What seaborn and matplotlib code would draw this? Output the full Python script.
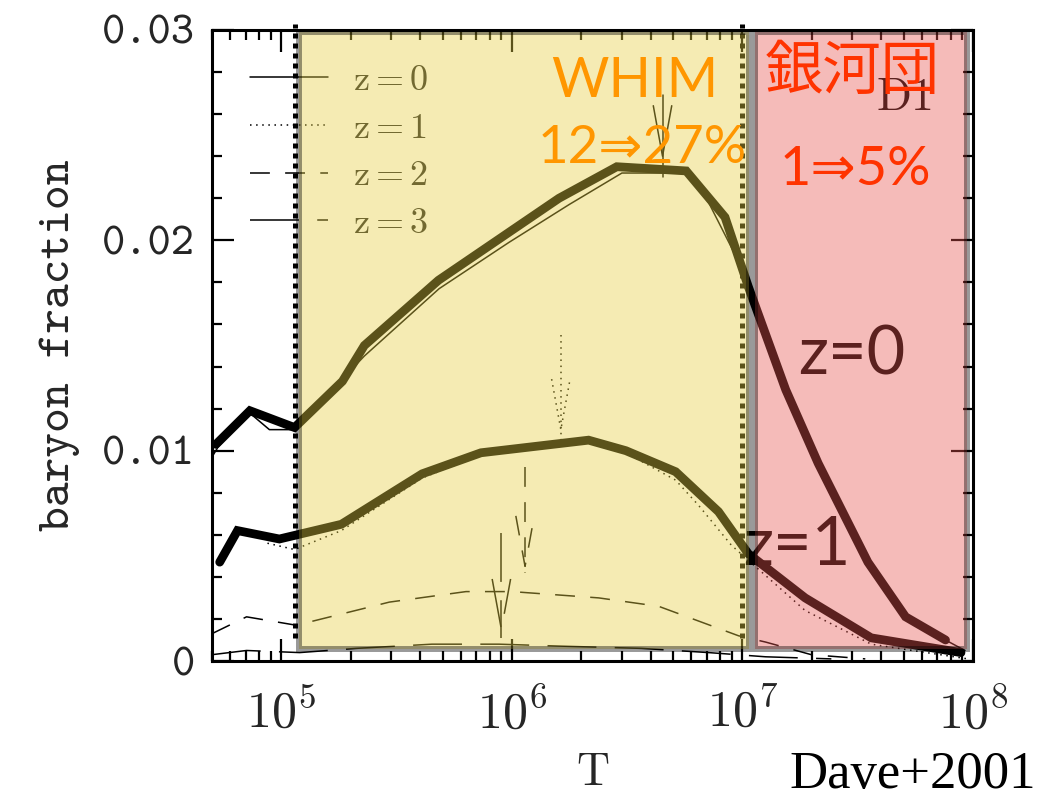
import numpy as np
import pandas as pd
import matplotlib
matplotlib.use("Agg")
import matplotlib.pyplot as plt
import seaborn as sns
from matplotlib.patches import Rectangle
from matplotlib.ticker import FixedLocator, FixedFormatter, LogLocator, NullFormatter, MultipleLocator

# ---------------- data ----------------
# thick highlighted curves
T_z0_thick = [5.2e4, 7.3e4, 1.14e5, 1.84e5, 2.29e5, 4.8e5, 1.6e6, 2.85e6, 5.7e6, 8.4e6,
              1.06e7, 1.54e7, 2.13e7, 3.5e7, 5.1e7, 7.6e7]
f_z0_thick = [0.0103, 0.0119, 0.0111, 0.0133, 0.0150, 0.0181, 0.0220, 0.0235, 0.0233, 0.0211,
              0.0178, 0.0129, 0.0094, 0.0047, 0.0021, 0.0010]
T_z1_thick = [5.4e4, 6.45e4, 9.8e4, 1.82e5, 4.08e5, 7.34e5, 2.15e6, 3.12e6, 5.13e6, 7.87e6,
              1.06e7, 1.87e7, 3.62e7, 8.87e7]
f_z1_thick = [0.0047, 0.0062, 0.0058, 0.0065, 0.0089, 0.0099, 0.0105, 0.0100, 0.0090, 0.0071,
              0.0051, 0.0030, 0.0011, 0.0004]
# thin curves of the original figure
T_z0 = [5.0e4, 5.33e4, 7.27e4, 8.87e4, 1.14e5, 2.29e5, 4.83e5, 9.7e5, 1.77e6, 3.0e6, 5.72e6,
        7.13e6, 9.61e6, 1.5e7, 2.13e7, 3.51e7, 5.13e7, 9.23e7]
f_z0 = [0.0097, 0.0102, 0.0118, 0.0110, 0.0110, 0.0145, 0.0177, 0.0199, 0.0217, 0.0232, 0.0232,
        0.0218, 0.0190, 0.0130, 0.0093, 0.0045, 0.0020, 0.0005]
T_z1 = [8.7e4, 1.14e5, 1.82e5, 4.08e5, 7.34e5, 2.15e6, 3.12e6, 5.13e6, 6.45e6, 8.96e6,
        1.87e7, 3.62e7, 9.51e7]
f_z1 = [0.0056, 0.0053, 0.0062, 0.0087, 0.0098, 0.0104, 0.0099, 0.0086, 0.0074, 0.0055,
        0.0024, 0.0008, 0.0001]
T_z2 = [5.0e4, 7.06e4, 1.16e5, 2.94e5, 6.32e5, 1.0e6, 2.38e6, 4.33e6, 6.45e6, 9.61e6,
        1.26e7, 1.99e7, 3.41e7]
f_z2 = [0.0013, 0.0021, 0.0017, 0.0028, 0.0033, 0.0033, 0.0030, 0.0026, 0.0019, 0.0012,
        0.0009, 0.0003, 0.0001]
T_z3 = [5.0e4, 7.06e4, 1.2e5, 2.11e5, 4.5e5, 8.78e5, 1.71e6, 3.65e6, 7.13e6, 1.26e7, 2.43e7]
f_z3 = [0.0003, 0.0005, 0.0004, 0.0006, 0.0008, 0.0008, 0.0007, 0.0006, 0.0004, 0.0002, 0.0001]

# mean-temperature arrows: position, top of shaft, arrow tip, end of shaft
arrow_T = [4.5e6, 1.63e6, 1.14e6, 9.0e5]
arrow_top = [0.0269, 0.0155, 0.0092, 0.0061]
arrow_tip = [0.0240, 0.0110, 0.0045, 0.0015]
arrow_end = [0.0230, 0.0105, 0.0042, 0.0011]

legend_labels = [r"$\mathrm{z}=0$", r"$\mathrm{z}=1$", r"$\mathrm{z}=2$", r"$\mathrm{z}=3$"]
line_styles = ["-", (0, (1, 3)), (0, (13, 10)), (0, (32, 12))]

whim_range = (1.197e5, 1.072e7)
cluster_range = (1.128e7, 9.45e7)
box_f = (0.00055, 0.0299)
boundary_T = [1.14e5, 1.0e7]

x_ticks = [1e5, 1e6, 1e7, 1e8]
x_ticklabels = [r"$10^{5}$", r"$10^{6}$", r"$10^{7}$", r"$10^{8}$"]
y_ticks = [0, 0.01, 0.02, 0.03]
y_ticklabels = ["0", "0.01", "0.02", "0.03"]

# ---------------- figure ----------------
sns.set_theme(style="ticks")
plt.rcParams["font.family"] = ["DejaVu Sans"]
plt.rcParams["mathtext.fontset"] = "cm"

fig = plt.figure(figsize=(10.42, 7.98), dpi=100)
fig.patch.set_facecolor("white")
ax = fig.add_axes([212 / 1042, 137 / 798, 761 / 1042, 631 / 798])
ax.set_facecolor("white")
ax.set_xscale("log")

# thick curves
for T, f in [(T_z0_thick, f_z0_thick), (T_z1_thick, f_z1_thick)]:
    sns.lineplot(x=T, y=f, ax=ax, color="black", lw=6.3, estimator=None, sort=False,
                 solid_joinstyle="miter", zorder=2)

handles = []
for T, f, ls in [(T_z0, f_z0, line_styles[0]), (T_z1, f_z1, line_styles[1]),
                 (T_z2, f_z2, line_styles[2]), (T_z3, f_z3, line_styles[3])]:
    sns.lineplot(x=T, y=f, ax=ax, color="black", lw=1.1, linestyle=ls,
                 estimator=None, sort=False, zorder=2)
    handles.append(ax.lines[-1])

# arrows
wing_dx = 10 ** 0.04
wing_len = 0.0024
for T, top, tip, end, ls in zip(arrow_T, arrow_top, arrow_tip, arrow_end, line_styles):
    ax.plot([T, T], [top, end], color="black", lw=1.1, linestyle=ls, zorder=2)
    ax.plot([T / wing_dx, T, T * wing_dx], [tip + wing_len, tip, tip + wing_len],
            color="black", lw=1.1, linestyle=ls, zorder=2)

# dotted boundaries
for bT in boundary_T:
    ax.plot([bT, bT], [0.0011, 0.0303], color="black", lw=3.6, linestyle=(0, (1, 1)),
            solid_capstyle="butt", dash_capstyle="butt", clip_on=False, zorder=2)

# overlay boxes
ax.add_patch(Rectangle((whim_range[0], box_f[0]), whim_range[1] - whim_range[0],
                       box_f[1] - box_f[0], facecolor=(230 / 255, 207 / 255, 67 / 255),
                       edgecolor="black", lw=4.3, alpha=0.4, zorder=3))
ax.add_patch(Rectangle((cluster_range[0], box_f[0]), cluster_range[1] - cluster_range[0],
                       box_f[1] - box_f[0], facecolor=(230 / 255, 85 / 255, 80 / 255),
                       edgecolor="black", lw=4.3, alpha=0.4, zorder=3))

# axes
ax.set_xlim(5e4, 1e8)
ax.set_ylim(0, 0.03)
ax.xaxis.set_major_locator(FixedLocator(x_ticks))
ax.xaxis.set_major_formatter(FixedFormatter(x_ticklabels))
ax.xaxis.set_minor_locator(LogLocator(base=10, subs=np.arange(2, 10), numticks=20))
ax.xaxis.set_minor_formatter(NullFormatter())
ax.yaxis.set_major_locator(FixedLocator(y_ticks))
ax.yaxis.set_major_formatter(FixedFormatter(y_ticklabels))
ax.yaxis.set_minor_locator(MultipleLocator(0.002))
ax.tick_params(which="both", direction="in", top=True, right=True, color="black",
               width=1.6, zorder=6)
ax.tick_params(which="major", length=16)
ax.tick_params(which="minor", length=7.5)
ax.tick_params(axis="x", which="major", pad=20, labelsize=36)
ax.tick_params(axis="y", which="major", pad=12, labelsize=32)
for lab in ax.get_yticklabels():
    lab.set_fontfamily("cmtt10")
for sp in ax.spines.values():
    sp.set_linewidth(2.2)
    sp.set_color("black")
    sp.set_zorder(6)

ax.set_xlabel("T", fontfamily="cmr10", fontsize=33, labelpad=10)
ax.set_ylabel("baryon fraction", fontfamily="cmtt10", fontsize=34, labelpad=16)

leg = ax.legend(handles, legend_labels, loc="upper left", bbox_to_anchor=(0.05, 0.948),
                frameon=False, fontsize=26, handlelength=2.15, handletextpad=0.7,
                labelspacing=0.38, borderaxespad=0, borderpad=0)
leg.set_zorder(2)

# labels under the overlay (black)
ax.text(0.9106, 0.8732, "D1", transform=ax.transAxes, ha="center", va="baseline",
        fontfamily="cmr10", fontsize=33, color="black", zorder=2)
ax.text(0.8410, 0.4548, "z=0", transform=ax.transAxes, ha="center", va="baseline",
        fontfamily=["Lato", "DejaVu Sans"], fontsize=48, color="black", zorder=2)
ax.text(0.7687, 0.1521, "z=1", transform=ax.transAxes, ha="center", va="baseline",
        fontfamily=["Lato", "DejaVu Sans"], fontsize=48, color="black", zorder=2)

# coloured labels on top
ax.text(0.5558, 0.8938, "WHIM", transform=ax.transAxes, ha="center", va="baseline",
        fontfamily=["Lato", "DejaVu Sans"], fontsize=40, color="#FF9600", zorder=7)
ax.text(0.5650, 0.7892, "12⇒27%", transform=ax.transAxes, ha="center", va="baseline",
        fontfamily=["Lato", "DejaVu Sans"], fontsize=38, color="#FF9600", zorder=7)
ax.text(0.8410, 0.9319, "銀河団", transform=ax.transAxes, ha="center", va="center",
        fontfamily=["Noto Sans CJK JP", "DejaVu Sans"], fontsize=42, color="#FF3300", zorder=7)
ax.text(0.8449, 0.7544, "1⇒5%", transform=ax.transAxes, ha="center", va="baseline",
        fontfamily=["Lato", "DejaVu Sans"], fontsize=39, color="#FF3300", zorder=7)

fig.text(0.994, 0.029, "Dave+2001", ha="right", va="center", fontfamily="Liberation Serif",
         fontsize=38, color="black")

fig.savefig("out.png", dpi=100, facecolor="white")
